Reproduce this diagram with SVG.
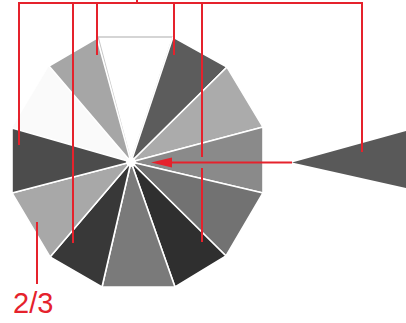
<svg xmlns="http://www.w3.org/2000/svg" width="406" height="323" viewBox="0 0 406 323">
<style>
.w{stroke:#ffffff;stroke-width:1.6;stroke-linejoin:round}
.t{stroke:#c8c8c8;stroke-width:1.4;stroke-linejoin:round}
.r{stroke:#e5222c;stroke-width:2;fill:none}
.lbl{font-family:"Liberation Sans",Arial,sans-serif;font-size:29px;fill:#e5222c}
</style>
<rect width="406" height="323" fill="#ffffff"/>
<g id="dodecagon">
<polygon points="131,162 12,128 49,66" fill="#fafafa"/>
<polygon class="t" points="131,162 98,37 173,37" fill="#ffffff"/>
<polygon class="w" points="131,162 173,37 227,67" fill="#5c5c5c"/>
<polygon class="w" points="131,162 227,67 263,127" fill="#ababab"/>
<polygon class="w" points="131,162 263,127 263,193" fill="#8a8a8a"/>
<polygon class="w" points="131,162 263,193 226,256" fill="#727272"/>
<polygon class="w" points="131,162 226,256 175,287" fill="#2f2f2f"/>
<polygon class="w" points="131,162 175,287 102,287" fill="#7a7a7a"/>
<polygon class="w" points="131,162 102,287 50,257" fill="#383838"/>
<polygon class="w" points="131,162 50,257 12,193" fill="#a8a8a8"/>
<polygon class="w" points="131,162 12,193 12,128" fill="#4c4c4c"/>
<polygon class="w" points="131,162 49,66 97,38" fill="#a6a6a6"/>
<circle cx="131" cy="162" r="5" fill="#ffffff"/>
</g>
<g id="triangle">
<polygon points="292,162.5 406,131 406,188" fill="#595959"/>
</g>
<g id="connectors">
<path class="r" d="M137,0V3M19,3H362M19,2V145M73,2V243M97,2V55M174,2V55M202,2V157M202,168V242M362,2V152"/>
<path class="r" d="M292,162.5H170"/>
<polygon points="151,162.5 172,157.5 172,167.5" fill="#e5222c"/>
<path class="r" d="M37,222V284"/>
</g>
<g id="label">
<text class="lbl" x="13" y="313">2/3</text>
</g>
</svg>
